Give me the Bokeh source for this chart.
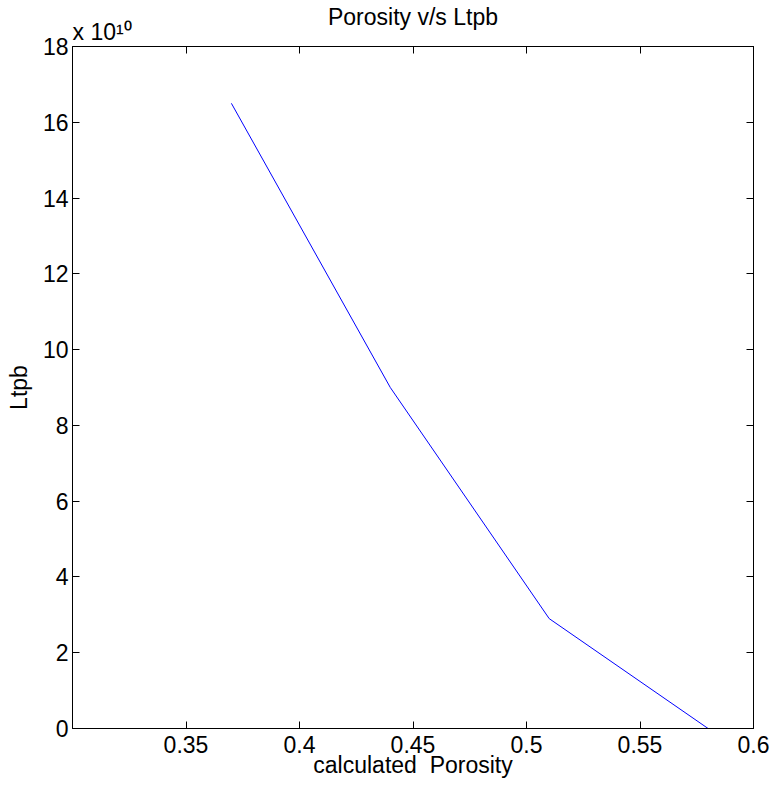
from bokeh.plotting import figure
from bokeh.models import (FixedTicker, CustomJSTickFormatter, LinearAxis, Range1d, Title)
from bokeh.embed import file_html
from bokeh.resources import INLINE

# ---- data ----
porosity = [0.37, 0.44, 0.51, 0.58]
ltpb = [16.5e10, 9.0e10, 2.9e10, 0.0]
x_ticks = [0.35, 0.40, 0.45, 0.50, 0.55, 0.60]
y_ticks = [0, 2e10, 4e10, 6e10, 8e10, 10e10, 12e10, 14e10, 16e10, 18e10]
x_lim = (0.3, 0.6)
y_lim = (0.0, 18e10)
title_text = "Porosity v/s Ltpb"
x_label = "calculated\u00a0 Porosity"
y_label = "Ltpb"
exp_text = "x 10\u00b9\u2070"

FONT = "Liberation Sans"
FS = "23px"

p = figure(frame_width=681, frame_height=682,
           x_range=Range1d(*x_lim), y_range=Range1d(*y_lim),
           output_backend="svg", toolbar_location=None,
           min_border_left=72, min_border_right=19,
           min_border_top=46, min_border_bottom=58,
           background_fill_color="white", border_fill_color="white")
p.outline_line_color = "black"
p.outline_line_width = 1
p.grid.visible = False

xfmt = CustomJSTickFormatter(code="return String(Number(tick.toFixed(2)));")
yfmt = CustomJSTickFormatter(code="return String(Math.round(tick/1e10));")

def style(ax, ticks, fmt, show):
    ax.ticker = FixedTicker(ticks=ticks)
    ax.formatter = fmt
    ax.major_tick_in = 7
    ax.major_tick_out = 0
    ax.minor_tick_line_color = None
    ax.axis_line_color = "black"
    ax.major_tick_line_color = "black"
    ax.major_label_text_font = FONT
    ax.major_label_text_color = "black"
    ax.axis_label_text_font = FONT
    ax.axis_label_text_font_size = FS
    ax.axis_label_text_font_style = "normal"
    ax.axis_label_text_color = "black"
    if show:
        ax.major_label_text_font_size = FS
    else:
        ax.major_label_text_font_size = "0px"
        ax.major_label_standoff = 0

xa = p.xaxis[0]
ya = p.yaxis[0]
style(xa, x_ticks, xfmt, True)
style(ya, y_ticks, yfmt, True)
xa.major_label_standoff = 7
ya.major_label_standoff = 4
xa.axis_label = x_label
xa.axis_label_standoff = -4
ya.axis_label = y_label
ya.axis_label_standoff = 8

top_ax = LinearAxis()
style(top_ax, x_ticks, xfmt, False)
p.add_layout(top_ax, "above")

exp_title = Title(text=exp_text, align="left", vertical_align="bottom",
                  text_font=FONT, text_font_size=FS, text_font_style="normal",
                  text_color="black", standoff=3)
p.add_layout(exp_title, "above")

right_ax = LinearAxis()
style(right_ax, y_ticks, yfmt, False)
p.add_layout(right_ax, "right")

p.line(porosity, ltpb, line_color="#0000ff", line_width=1)

p.title.text = title_text
p.title.align = "center"
p.title.vertical_align = "bottom"
p.title.text_font = FONT
p.title.text_font_size = FS
p.title.text_font_style = "normal"
p.title.text_color = "black"
p.title.standoff = -28
p.title.offset = -5

open("out.html", "w").write(file_html(p, INLINE))
